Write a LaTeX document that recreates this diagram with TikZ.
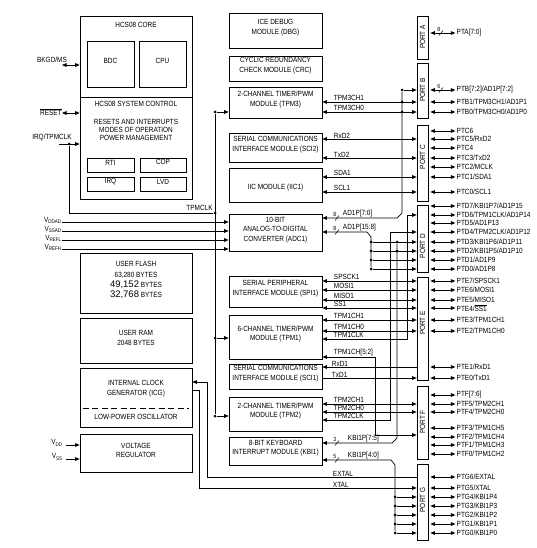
\documentclass[tikz,border=0pt]{standalone}
\usepackage{fontspec}
\setmainfont{Liberation Sans}[FakeStretch=0.86]
\newfontfamily\bigdigits{Liberation Sans}
\usetikzlibrary{arrows.meta,fit}
\newcommand\fs{\fontsize{7.5}{9.5}\selectfont}
\tikzset{
  blk/.style={draw,inner sep=0pt,align=center,font=\fs},
  txt/.style={inner sep=0pt,align=center,font=\fs},
  portbox/.style={draw,inner sep=0pt},
  sig/.style={inner sep=0.6pt,anchor=south west,font=\fs},
  pinlbl/.style={inner sep=1pt,anchor=west,font=\fs},
  num/.style={inner sep=0.3pt,anchor=south east,font=\fontsize{6}{7}\selectfont},
  dot/.style={circle,fill,inner sep=0pt,minimum size=3pt}
}
\begin{document}
\begin{tikzpicture}[x=1pt,y=-1pt,line width=0.7pt,>={Triangle[length=4.5pt,width=3.6pt]}]
  \useasboundingbox (0,0) rectangle (537,548);

  % HCS08 core and system control
  \node[blk,fit={(80,16)(192,97)}] (core) {};
  \node[txt] (coreT) at (136,25) {HCS08 CORE};
  \node[blk,fit={(87,41)(134,87)}] (bdc) {BDC};
  \node[blk,fit={(139,41)(186,87)}] (cpu) {CPU};
  \node[blk,fit={(80,97)(192,199)}] (sysctl) {};
  \node[txt] (sysT) at (136,104) {HCS08 SYSTEM CONTROL};
  \node[txt,font=\fontsize{7.5}{8.2}\selectfont] (sysL) at (136,130) {RESETS AND INTERRUPTS\\MODES OF OPERATION\\POWER MANAGEMENT};
  \node[blk,fit={(87,158)(134,172)}] (rti) {RTI};
  \node[blk,fit={(140,158)(186,172)}] (cop) {COP};
  \node[blk,fit={(87,177)(134,191)}] (irq) {IRQ};
  \node[blk,fit={(140,177)(186,191)}] (lvd) {LVD};

  % memories, clock, regulator
  \node[blk,fit={(80,253)(192,313)},font=\fontsize{7.5}{10.3}\selectfont] (flash) {USER FLASH\\63,280 BYTES\\{\bigdigits\fontsize{9.5}{10}\selectfont 49,152} BYTES\\{\bigdigits\fontsize{9.5}{10}\selectfont 32,768} BYTES};
  \node[blk,fit={(80,318)(192,363)}] (ram) {USER RAM\\2048 BYTES};
  \node[blk,fit={(80,368)(192,427)}] (icg) {};
  \node[txt] (icgT) at (136,388.5) {INTERNAL CLOCK\\GENERATOR (ICG)};
  \draw[dash pattern=on 6pt off 3.5pt] (icg.west |- 0,408) ++(3,0) -- (189,408);
  \node[txt] (oscT) at (136,417) {LOW-POWER OSCILLATOR};
  \node[blk,fit={(80,434)(192,472)}] (vreg) {VOLTAGE\\REGULATOR};

  % peripheral modules
  \node[blk,fit={(229,13)(322,48)}] (dbg) {ICE DEBUG\\MODULE (DBG)};
  \node[blk,fit={(229,56)(322,81)}] (crc) {CYCLIC REDUNDANCY\\CHECK MODULE (CRC)};
  \node[blk,fit={(229,87)(322,118)}] (tpm3) {2-CHANNEL TIMER/PWM\\MODULE (TPM3)};
  \node[blk,fit={(229,133)(322,162)}] (sci2) {SERIAL COMMUNICATIONS\\INTERFACE MODULE (SCI2)};
  \node[blk,fit={(229,168)(322,202)}] (iic) {};
  \node[txt] (iicT) at (275.5,188) {IIC MODULE (IIC1)};
  \node[blk,fit={(229,214)(322,251)}] (adc) {10-BIT\\ANALOG-TO-DIGITAL\\CONVERTER (ADC1)};
  \node[blk,fit={(229,276)(322,307)}] (spi) {SERIAL PERIPHERAL\\INTERFACE MODULE (SPI1)};
  \node[blk,fit={(229,315)(322,359)}] (tpm1) {6-CHANNEL TIMER/PWM\\MODULE (TPM1)};
  \node[blk,fit={(229,364)(322,389)}] (sci1) {SERIAL COMMUNICATIONS\\INTERFACE MODULE (SCI1)};
  \node[blk,fit={(229,397)(322,431)}] (tpm2) {2-CHANNEL TIMER/PWM\\MODULE (TPM2)};
  \node[blk,fit={(229,437)(322,465)}] (kbi) {8-BIT KEYBOARD\\INTERRUPT MODULE (KBI1)};

  % ports
  \node[portbox,fit={(417,16)(428,59)}] (porta) {};
  \node[portbox,fit={(417,63)(428,118)}] (portb) {};
  \node[portbox,fit={(417,125)(428,201)}] (portc) {};
  \node[portbox,fit={(417,205)(428,272)}] (portd) {};
  \node[portbox,fit={(417,277)(428,380)}] (porte) {};
  \node[portbox,fit={(417,386)(428,459)}] (portf) {};
  \node[portbox,fit={(417,464)(428,540)}] (portg) {};
  \foreach \y/\t in {37/A,90/B,157/C,246/D,323/E,422/F,500/G}
    \node[txt,rotate=90] (port\t T) at (422.5,\y) {PORT \t};

  % external pins on the ports
  \foreach \p/\y/\t in {porta/33/{PTA[7:0]},
      portb/90/{PTB[7:2]/AD1P[7:2]}, portb/102/{PTB1/TPM3CH1/AD1P1}, portb/112/{PTB0/TPM3CH0/AD1P0},
      portc/131/{PTC6}, portc/139/{PTC5/RxD2}, portc/148/{PTC4}, portc/158/{PTC3/TxD2},
      portc/167/{PTC2/MCLK}, portc/177/{PTC1/SDA1}, portc/192/{PTC0/SCL1},
      portd/206/{PTD7/KBI1P7/AD1P15}, portd/215/{PTD6/TPM1CLK/AD1P14}, portd/223/{PTD5/AD1P13},
      portd/232/{PTD4/TPM2CLK/AD1P12}, portd/242/{PTD3/KBI1P6/AD1P11}, portd/251/{PTD2/KBI1P5/AD1P10},
      portd/260/{PTD1/AD1P9}, portd/269/{PTD0/AD1P8},
      porte/281/{PTE7/SPSCK1}, porte/290/{PTE6/MOSI1}, porte/300/{PTE5/MISO1},
      porte/308/{PTE4/$\overline{\hbox{SS1}}$}, porte/320/{PTE3/TPM1CH1}, porte/331/{PTE2/TPM1CH0},
      porte/367/{PTE1/RxD1}, porte/378/{PTE0/TxD1},
      portf/395/{PTF[7:6]}, portf/404/{PTF5/TPM2CH1}, portf/412/{PTF4/TPM2CH0},
      portf/428/{PTF3/TPM1CH5}, portf/437/{PTF2/TPM1CH4}, portf/445/{PTF1/TPM1CH3}, portf/454/{PTF0/TPM1CH2},
      portg/477/{PTG6/EXTAL}, portg/488/{PTG5/XTAL}, portg/497/{PTG4/KBI1P4}, portg/506/{PTG3/KBI1P3},
      portg/515/{PTG2/KBI1P2}, portg/524/{PTG1/KBI1P1}, portg/533/{PTG0/KBI1P0}}
    \draw[<->] (\p.east |- 0,\y) ++(2,0) -- ++(25,0) node[pinlbl] (pin\y) {\t};

  % external pins on the left
  \node[txt] (bkgdL) at (52,60) {BKGD/MS};
  \coordinate (bkgd) at (62,65);
  \draw[<->] (bkgd) -- (bkgd -| core.west);
  \node[txt,anchor=east] (rstL) at (62,112) {$\overline{\hbox{RESET}}$};
  \draw[<->] (rstL.east |- 0,113) -- (sysctl.west |- 0,113);
  \node[txt] (irqL) at (52,137) {IRQ/TPMCLK};
  \node[dot] (irqd) at (69,144) {};
  \draw[->] (irqd) ++(-10,0) -- (sysctl.west |- irqd);
  \foreach \y/\s in {222/DDAD,231/SSAD,240/REFL,249/REFH}{
    \node[txt,anchor=east] (v\s) at (62,\y-1.5) {V\textsubscript{\s}};
    \draw[->] (v\s.east |- 0,\y) -- (adc.west |- 0,\y);
  }
  \node[txt,anchor=east] (vddL) at (63,443) {V\textsubscript{DD}};
  \draw[->] (vddL.east |- 0,445) ++(3,0) -- (vreg.west |- 0,445);
  \node[txt,anchor=east] (vssL) at (63,457) {V\textsubscript{SS}};
  \draw[->] (vssL.east |- 0,459) ++(3,0) -- (vreg.west |- 0,459);

  % timer clock distribution
  \node[dot] (clk3) at (215,112) {};
  \node[dot] (clkj) at (215,213) {};
  \node[dot] (clk1) at (215,338) {};
  \node[dot] (clk2) at (215,416) {};
  \draw (clk3) -- (clk2);
  \draw (irqd) |- (clkj);
  \node[txt,anchor=south east] (tpmclkL) at (213,211) {TPMCLK};
  \draw[->] (clk3) -- (clk3 -| tpm3.west);
  \draw[->] (clk1) -- (clk1 -| tpm1.west);
  \draw[->] (clk2) -- (clk2 -| tpm2.west);

  % straight module-to-port signals
  \foreach \m/\p/\y/\t in {tpm3/portb/102/TPM3CH1, tpm3/portb/112/TPM3CH0,
      sci2/portc/139/RxD2, sci2/portc/158/TxD2, iic/portc/177/SDA1, iic/portc/192/SCL1,
      spi/porte/281/SPSCK1, spi/porte/290/MOSI1, spi/porte/300/MISO1, spi/porte/308/{$\overline{\hbox{SS1}}$},
      tpm1/porte/320/TPM1CH1, tpm1/porte/331/TPM1CH0, tpm2/portf/404/TPM2CH1, tpm2/portf/412/TPM2CH0}{
    \draw[<->] (\m.east |- 0,\y) -- (\p.west |- 0,\y);
    \node[sig] (s\y) at (333,\y) {\t};
  }
  \draw[<-] (sci1.east |- 0,367) -- (porte.west |- 0,367);
  \node[sig] (s367) at (331,367) {RxD1};
  \draw[->] (sci1.east |- 0,378) -- (porte.west |- 0,378);
  \node[sig] (s378) at (331,378) {TxD1};

  % ADC channels
  \node[dot] (b90) at (402,90) {};
  \node[dot] (b102) at (402,102) {};
  \node[dot] (b112) at (402,112) {};
  \draw[->] (b90) -- (b90 -| portb.west);
  \draw[<-] (adc.east |- 0,218) -- (397,218) -- (402,213) -- (b90);
  \node[sig] (s218) at (342,218) {AD1P[7:0]};
  \foreach \y in {242,251,260,269}{
    \node[dot] (d\y) at (371,\y) {};
    \draw[->] (d\y) -- (d\y -| portd.west);
  }
  \draw[<-] (adc.east |- 0,232) -- (367,232) -- (371,237) -- (d269);
  \node[sig] (s232) at (342,232) {AD1P[15:8]};

  % timer clocks and channels routed to other ports
  \draw[<->] (tpm1.east |- 0,339) -- (407,339) -- (407,215) -- (portd.west |- 0,215);
  \node[sig] (s339) at (333,339) {TPM1CLK};
  \draw[<->] (tpm2.east |- 0,420) -- (390,420) -- (390,232) -- (portd.west |- 0,232);
  \node[sig] (s420) at (333,420) {TPM2CLK};
  \draw[<->] (tpm1.east |- 0,357) -- (375,357) -- (375,435) -- (portf.west |- 0,435);
  \node[sig] (s357) at (333,357) {TPM1CH[5:2]};

  % keyboard interrupts
  \node[dot] (k242) at (397,242) {};
  \node[dot] (k251) at (397,251) {};
  \draw[<-] (kbi.east |- 0,443) -- (392,443) -- (397,438) -- (k242);
  \node[sig] (s443) at (347,443) {KBI1P[7:5]};
  \foreach \y in {497,506,515,524,533}{
    \node[dot] (g\y) at (395,\y) {};
    \draw[->] (g\y) -- (g\y -| portg.west);
  }
  \draw[<-] (kbi.east |- 0,460) -- (391,460) -- (395,465) -- (g533);
  \node[sig] (s460) at (347,460) {KBI1P[4:0]};

  % oscillator pins
  \draw[<-] (icg.east |- 0,382) -- (207,382) -- (207,477) -- (portg.west |- 0,477);
  \node[sig] (s477) at (332,477) {EXTAL};
  \draw[->] (icg.east |- 0,390) -- (199,390) -- (199,488) -- (portg.west |- 0,488);
  \node[sig] (s488) at (332,488) {XTAL};

  % bus width marks
  \foreach \x/\y/\n in {441/33/8, 441/90/6, 337/218/8, 337/232/8, 337/443/3, 337/460/5}{
    \draw[line width=0.5pt] (\x-2,\y+2.5) -- (\x+2,\y-2.5);
    \node[num] (w\x-\y) at (\x,\y-1) {\n};
  }
\end{tikzpicture}
\end{document}
